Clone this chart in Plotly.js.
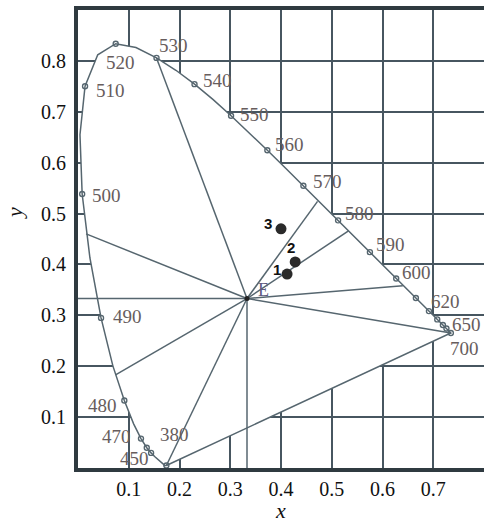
<!DOCTYPE html>
<html>
<head>
<meta charset="utf-8">
<script src="https://cdn.plot.ly/plotly-3.0.1.min.js"></script>
<style>html,body{margin:0;padding:0;background:#fff;}#chart{width:485px;height:523px;}</style>
</head>
<body>
<div id="chart"></div>
<script>
// Spectral locus (CIE 1931)
const wavelengths = [380,385,390,395,400,405,410,415,420,425,430,435,440,445,450,455,460,465,470,475,480,485,490,495,500,505,510,515,520,525,530,535,540,545,550,555,560,565,570,575,580,585,590,595,600,605,610,615,620,625,630,635,640,645,650,655,660,665,670,675,680,685,690,695,700];
const locusX = [0.1741,0.1740,0.1738,0.1736,0.1733,0.1730,0.1726,0.1721,0.1714,0.1703,0.1689,0.1669,0.1644,0.1611,0.1566,0.1510,0.1440,0.1355,0.1241,0.1096,0.0913,0.0687,0.0454,0.0235,0.0082,0.0039,0.0139,0.0389,0.0743,0.1142,0.1547,0.1929,0.2296,0.2658,0.3016,0.3373,0.3731,0.4087,0.4441,0.4788,0.5125,0.5448,0.5752,0.6029,0.6270,0.6482,0.6658,0.6801,0.6915,0.7006,0.7079,0.7140,0.7190,0.7230,0.7260,0.7283,0.7300,0.7311,0.7320,0.7327,0.7334,0.7340,0.7344,0.7346,0.7347];
const locusY = [0.0050,0.0050,0.0049,0.0049,0.0048,0.0048,0.0048,0.0048,0.0051,0.0058,0.0069,0.0086,0.0109,0.0138,0.0177,0.0227,0.0297,0.0399,0.0578,0.0868,0.1327,0.2007,0.2950,0.4127,0.5384,0.6548,0.7502,0.8120,0.8338,0.8262,0.8059,0.7816,0.7543,0.7243,0.6923,0.6589,0.6245,0.5896,0.5547,0.5202,0.4866,0.4544,0.4242,0.3965,0.3725,0.3514,0.3340,0.3197,0.3083,0.2993,0.2920,0.2859,0.2809,0.2770,0.2740,0.2717,0.2700,0.2689,0.2680,0.2673,0.2666,0.2660,0.2656,0.2654,0.2653];

// Small circle markers on the locus
const markerWavelengths = [380,460,465,470,480,490,500,510,520,530,540,550,560,570,580,590,600,610,620,630,640,650,700];

// Wavelength labels
const labelWavelengths = [380,450,470,480,490,500,510,520,530,540,550,560,570,580,590,600,620,650,700];

// White point E
const whiteX = 0.333;
const whiteY = 0.333;

// Lines drawn from E to these end points
const spokeEndX = [0.1547,0.472,0.533,0.640,0.7347,0.333,0.1741,0.074,0.0,0.016];
const spokeEndY = [0.8059,0.524,0.466,0.358,0.2653,0.0,0.005,0.183,0.333,0.460];

// Measured samples
const sampleNames = ["1","2","3"];
const sampleX = [0.412,0.428,0.400];
const sampleY = [0.381,0.405,0.470];

// Axis ticks
const xTicks = [0.1,0.2,0.3,0.4,0.5,0.6,0.7];
const yTicks = [0.1,0.2,0.3,0.4,0.5,0.6,0.7,0.8];

// ---- styling (not data) ----
const labelOffsets = {380:[8,-31],450:[-23,0],470:[-24,-2],480:[-22,5],490:[26,-1],500:[24,1],510:[25,4],520:[5,19],530:[17,-12],540:[23,-4],550:[23,-1],560:[22,-6],570:[24,-4],580:[21,-7],590:[21,-8],600:[20,-6],620:[17,-10],650:[20,-4],700:[14,16]};
const sampleOffsets = {"1":[-10,-5],"2":[-4,-14],"3":[-13,-5]};

const lineCol = '#56666f';
const gridCol = '#475660';
const frameCol = '#2f3a40';
const serif = '"Liberation Serif", "DejaVu Serif", serif';

function locusPoint(w){ const i = wavelengths.indexOf(w); return [locusX[i], locusY[i]]; }

const traces = [];
// white-filled horseshoe (hides grid inside), including purple line
traces.push({
  type:'scatter', mode:'lines',
  x: locusX.concat([locusX[0]]), y: locusY.concat([locusY[0]]),
  fill:'toself', fillcolor:'#ffffff',
  line:{color:lineCol, width:1.5}, hoverinfo:'skip'
});
// spokes
const sx=[], sy=[];
for(let i=0;i<spokeEndX.length;i++){ sx.push(whiteX, spokeEndX[i], null); sy.push(whiteY, spokeEndY[i], null); }
traces.push({type:'scatter', mode:'lines', x:sx, y:sy, line:{color:lineCol, width:1.5}, hoverinfo:'skip'});
// locus markers
traces.push({
  type:'scatter', mode:'markers',
  x: markerWavelengths.map(w=>locusPoint(w)[0]),
  y: markerWavelengths.map(w=>locusPoint(w)[1]),
  marker:{symbol:'circle-open', size:5, color:lineCol, line:{width:1.4, color:lineCol}}
});
// E point
traces.push({type:'scatter', mode:'markers', x:[whiteX], y:[whiteY], marker:{size:5, color:'#222'}});
// samples
traces.push({type:'scatter', mode:'markers', x:sampleX, y:sampleY, marker:{size:11, color:'#2a2a2a'}});

const annotations = [];
labelWavelengths.forEach(w=>{
  const p = locusPoint(w); const o = labelOffsets[w] || [20,0];
  annotations.push({x:p[0], y:p[1], xref:'x', yref:'y', text:String(w), showarrow:false,
    xshift:o[0], yshift:-o[1], font:{family:serif, size:19, color:'#675d5d'}});
});
annotations.push({x:whiteX, y:whiteY, xref:'x', yref:'y', text:'E', showarrow:false, xshift:16, yshift:9,
  font:{family:serif, size:18, color:'#5e5a80'}});
sampleNames.forEach((n,i)=>{
  const o = sampleOffsets[n];
  annotations.push({x:sampleX[i], y:sampleY[i], xref:'x', yref:'y', text:'<b>'+n+'</b>', showarrow:false,
    xshift:o[0], yshift:-o[1], font:{family:'"Liberation Sans", Arial, sans-serif', size:15, color:'#111'}});
});
// y axis title
annotations.push({xref:'paper', yref:'paper', x:-0.155, y:0.557, xanchor:'center', yanchor:'middle',
  text:'<i>y</i>', showarrow:false, textangle:-90,
  font:{family:serif, size:22, color:'#111'}});

const layout = {
  width:485, height:523,
  margin:{l:78, r:1, t:10, b:55, pad:0},
  paper_bgcolor:'#ffffff', plot_bgcolor:'#ffffff',
  showlegend:false,
  xaxis:{range:[0,0.8], tickvals:xTicks, ticktext:xTicks.map(v=>v.toFixed(1)),
    showgrid:true, gridcolor:gridCol, gridwidth:2, zeroline:false,
    showline:true, linecolor:frameCol, linewidth:4, mirror:true, ticks:'', ticklabelstandoff:0,
    tickfont:{family:serif, size:20, color:'#111'},
    title:{text:'<i>x</i>', font:{family:serif, size:22, color:'#111'}, standoff:8}},
  yaxis:{range:[0,0.9], tickvals:yTicks, ticktext:yTicks.map(v=>v.toFixed(1)),
    showgrid:true, gridcolor:gridCol, gridwidth:2, zeroline:false,
    showline:true, linecolor:frameCol, linewidth:4, mirror:false, ticks:'', ticklabelstandoff:4,
    tickfont:{family:serif, size:20, color:'#111'}},
  annotations: annotations
};

Plotly.newPlot('chart', traces, layout, {staticPlot:true, displayModeBar:false});
</script>
</body>
</html>
